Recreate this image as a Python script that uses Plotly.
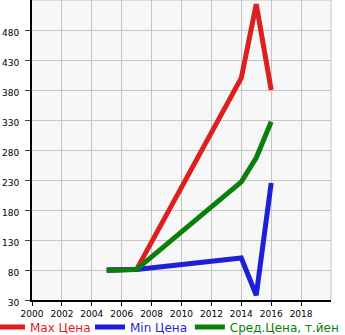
import plotly.graph_objects as go

years = [2005, 2006, 2007, 2014, 2015, 2016]
max_price = [80, 80, 81, 400, 523, 380]
min_price = [80, 80, 81, 100, 38, 225]
avg_price = [79, 80, 81, 227, 267, 327]

x_ticks = list(range(2000, 2020, 2))
y_ticks = list(range(30, 531, 50))[:10]

series = [
    ("Max Цена", max_price, "#dd1f1f", "legend", -0.1405),
    ("Min Цена", min_price, "#1f1fd8", "legend2", 0.194),
    ("Сред.Цена, т.йен", avg_price, "#0b7f0b", "legend3", 0.528),
]

fig = go.Figure()
legend_cfg = {}
for name, vals, col, lg, lx in series:
    fig.add_trace(go.Scatter(
        x=years, y=vals, mode="lines",
        line=dict(color=col, width=5),
        name='<span style="color:%s">%s</span>' % (col, name),
        legend=lg,
    ))
    legend_cfg[lg] = dict(
        orientation="h", x=lx, xanchor="left",
        yref="container", y=8 / 335, yanchor="middle",
        font=dict(size=12, family="DejaVu Sans"), itemwidth=30,
        bgcolor="rgba(0,0,0,0)", borderwidth=0,
    )

fig.update_layout(
    width=345, height=335,
    margin=dict(l=32, r=14, t=0, b=35, autoexpand=False),
    paper_bgcolor="white",
    plot_bgcolor="#f7f7f7",
    font=dict(family="DejaVu Sans", size=9, color="black"),
    showlegend=True,
    **legend_cfg,
)
fig.update_xaxes(
    range=[2000, 2020], tickvals=x_ticks, ticktext=[str(v) for v in x_ticks],
    showgrid=True, gridcolor="#c4c4c4", gridwidth=1,
    showline=True, linecolor="black", linewidth=2,
    ticks="outside", ticklen=4, tickcolor="black", zeroline=False,
    fixedrange=True, automargin=False,
)
fig.update_yaxes(
    range=[30, 530], tickvals=y_ticks, ticktext=[str(v) for v in y_ticks],
    showgrid=True, gridcolor="#c4c4c4", gridwidth=1,
    showline=True, linecolor="black", linewidth=2,
    ticks="outside", ticklen=5, tickcolor="#444", zeroline=False,
    ticklabelshift=3, ticklabelstandoff=4, fixedrange=True, automargin=False,
)
fig.add_shape(type="line", xref="paper", yref="paper", x0=1, x1=1, y0=0, y1=1,
              line=dict(color="#c4c4c4", width=1))
fig.add_shape(type="line", xref="paper", yref="paper", x0=0, x1=1, y0=1, y1=1,
              line=dict(color="#c4c4c4", width=1))

fig.write_html("out.html")
